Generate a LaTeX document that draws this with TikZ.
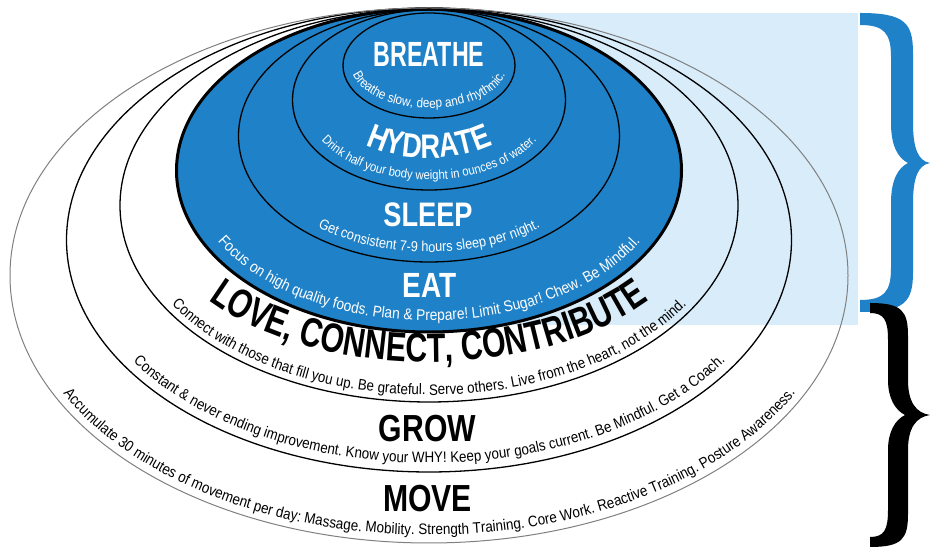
\documentclass[tikz,border=0pt]{standalone}
\usepackage{fontspec}
\usepackage{graphicx}
\usepackage{tikz}
\usetikzlibrary{decorations.text}
\newfontfamily\condfont[FakeStretch=0.88]{Liberation Sans}
\newfontfamily\headfont[FakeStretch=0.8]{Liberation Sans}
\newfontfamily\narrowhead[FakeStretch=0.74]{Liberation Sans}
\definecolor{wellblue}{RGB}{31,129,199}
\definecolor{welllight}{RGB}{216,236,249}

% text set along the lower half of an ellipse
% [colour]{centre x}{centre y}{x radius}{y radius}{format}{text}
\newcommand{\arclabel}[7][black]{%
  \path[decorate, decoration={text along path, text align=center, text color=#1,
      text={|#6|#7}}]
    ({#2-#4},#3) arc[start angle=180, end angle=360, x radius=#4, y radius=#5];}

\begin{document}
\begin{tikzpicture}[x=1pt, y=1pt,
    ring/.style={draw=black, line width=1.3pt},
    headline/.style={inner sep=0pt, font=\headfont\bfseries\fontsize{#1}{#1}\selectfont}]
  \useasboundingbox (0,0) rectangle (930,548);
  \fill[white] (0,0) rectangle (930,548);
  % light band behind the top half
  \fill[welllight] (480,223) rectangle (858,535);
  % blue core
  \fill[wellblue] (429,377.5) ellipse [x radius=252.5, y radius=161.5];
  % rings, inside out
  \draw[ring] (429,482.5) ellipse [x radius=86, y radius=52.5];
  \draw[ring] (429,448) ellipse [x radius=136.5, y radius=90];
  \draw[ring] (429,412) ellipse [x radius=190.5, y radius=126];
  \draw[ring, line width=3pt] (429,377.5) ellipse [x radius=252.5, y radius=161.5];
  \draw[ring] (429,342.5) ellipse [x radius=309, y radius=196.5];
  \draw[ring] (429,308) ellipse [x radius=362.5, y radius=232];
  \draw[ring, draw=gray, line width=1pt] (429,272.5) ellipse [x radius=419, y radius=267.5];

  % headings
  \node[headline=35, text=white] (breathe) at (429,494) {\scalebox{0.83}[1]{BREATHE}};
  \arclabel[white]{429}{448}{100}{58}{\headfont\bfseries\fontsize{34}{34}\selectfont}{HYDRATE}
  \node[headline=34, text=white] (sleep) at (428,333) {SLEEP};
  \node[headline=35, text=white] (eat) at (429.5,262.5) {EAT};
  \arclabel{429}{342.5}{277}{156.5}{\narrowhead\bfseries\fontsize{41}{41}\selectfont}{LOVE, CONNECT, CONTRIBUTE}
  \node[headline=37.7] (grow) at (427.5,119.5) {GROW};
  \node[headline=37.7] (move) at (427.5,49.5) {MOVE};

  % descriptions
  \arclabel[white]{429}{482.5}{78}{42.5}{\condfont\fontsize{13.4}{14}\selectfont}{Breathe slow, deep and rhythmic.}
  \arclabel[white]{429}{448}{125}{80}{\condfont\fontsize{12.9}{14}\selectfont}{Drink half your body weight in ounces of water.}
  \arclabel[white]{429}{412}{180}{116}{\condfont\fontsize{14.5}{15}\selectfont}{Get consistent 7-9 hours sleep per night.}
  \arclabel[white]{429}{377.5}{240}{150}{\condfont\fontsize{15.6}{17}\selectfont}{Focus on high quality foods. Plan {\&} Prepare! Limit Sugar! Chew. Be Mindful.}
  \arclabel{429}{342.5}{302}{189.5}{\condfont\fontsize{15.2}{16}\selectfont}{Connect with those that fill you up. Be grateful. Serve others. Live from the heart, not the mind.}
  \arclabel{429}{308}{353}{223}{\condfont\fontsize{15.2}{16}\selectfont}{Constant {\&} never ending improvement. Know your WHY! Keep your goals current. Be Mindful. Get a Coach.}
  \arclabel{429}{272.5}{411}{259.5}{\condfont\fontsize{15.3}{16}\selectfont}{Accumulate 30 minutes of movement per day: Massage. Mobility. Strength Training. Core Work. Reactive Training. Posture Awareness.}

  % braces
  \fill[wellblue] (860,535)
    .. controls (905,535) and (913,525) .. (913,495)
    -- (913,425)
    .. controls (913,400) and (918,387) .. (930,385)
    .. controls (918,383) and (913,370) .. (913,345)
    -- (913,276)
    .. controls (913,246) and (905,236) .. (860,236)
    -- (860,248)
    .. controls (884,248) and (891,256) .. (891,280)
    -- (891,345)
    .. controls (891,368) and (898,380) .. (908,385)
    .. controls (898,390) and (891,402) .. (891,425)
    -- (891,491)
    .. controls (891,515) and (884,523) .. (860,523)
    -- cycle;
  \fill[black] (870,245)
    .. controls (902,245) and (908,237) .. (908,212)
    -- (908,168)
    .. controls (908,146) and (916,135) .. (930,133)
    .. controls (916,131) and (908,120) .. (908,98)
    -- (908,34)
    .. controls (908,9) and (902,1) .. (870,1)
    -- (870,11)
    .. controls (884,11) and (888,18) .. (888,38)
    -- (888,98)
    .. controls (888,116) and (895,128) .. (905,133)
    .. controls (895,138) and (888,150) .. (888,168)
    -- (888,208)
    .. controls (888,228) and (884,235) .. (870,235)
    -- cycle;
\end{tikzpicture}
\end{document}
